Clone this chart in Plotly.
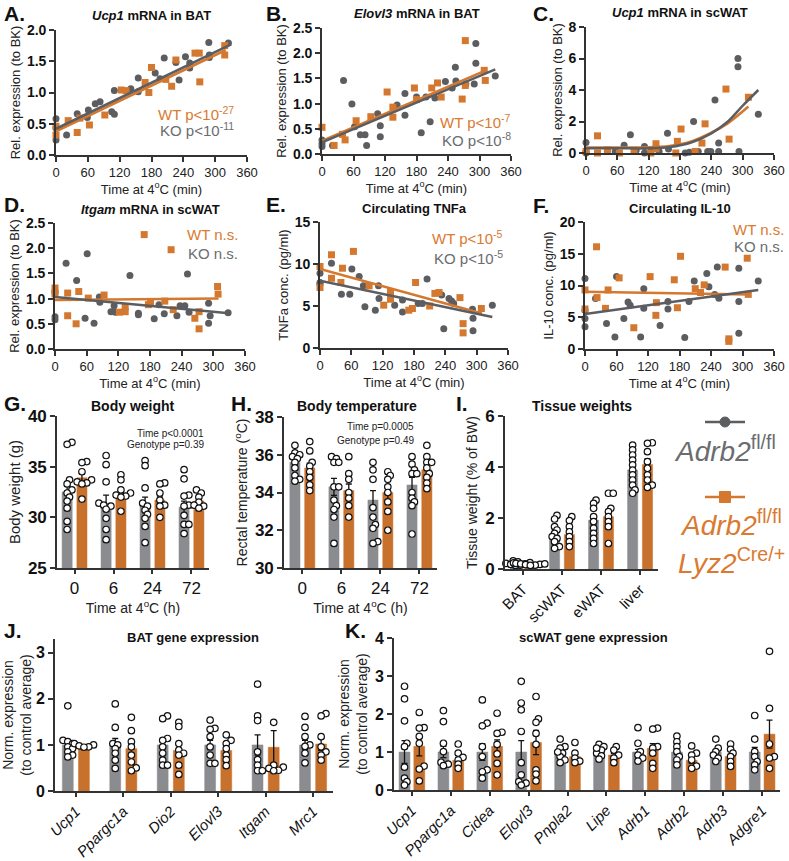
import plotly.graph_objects as go

W, H = 789, 861

# ---------------- DATA ----------------
# Panel A: Ucp1 mRNA in BAT
A_ko_t = [0,0,0,20,40,59,61,74,83,105,110,110,141,155,155,187,196,204,226,232,244,252,252,288,289,289,325]
A_ko_y = [0.58,0.43,0.24,0.32,0.66,0.60,0.72,0.82,0.85,0.69,0.65,1.03,1.06,1.23,1.01,1.31,1.22,1.55,1.48,1.20,1.57,1.39,1.47,1.80,1.60,1.56,1.79]
A_wt_t = [0,0,23,40,45,63,92,123,132,168,175,180,207,218,226,262,270,271,318,318]
A_wt_y = [0.46,0.32,0.55,0.36,0.59,0.48,0.64,1.04,1.03,1.16,1.00,1.40,1.21,1.10,1.52,1.63,1.63,1.17,1.75,1.60]
A_wt_fit_t, A_wt_fit_y = [0, 320], [0.38, 1.68]
A_ko_fit_t, A_ko_fit_y = [0, 330], [0.42, 1.77]

# Panel B: Elovl3 mRNA in BAT
B_ko_t = [0,0,0,20,41,57,62,73,82,85,106,111,111,143,158,158,180,189,198,206,215,235,248,254,255,274,293,293,290,330]
B_ko_y = [0.28,0.21,0.15,0.17,1.46,0.99,0.54,0.38,0.38,0.17,0.80,0.56,0.34,0.97,1.20,0.77,1.13,0.42,1.13,0.64,1.11,1.44,1.31,1.72,1.45,1.39,2.19,1.80,1.39,1.55]
B_wt_t = [0,23,39,44,65,93,124,135,135,176,180,209,220,227,267,273,273,309,311]
B_wt_y = [0.53,0.17,0.39,0.28,0.66,0.74,1.23,0.93,0.73,1.31,1.08,1.31,1.41,1.13,1.09,2.25,1.36,1.66,1.46]
B_wt_fit_t, B_wt_fit_y = [0, 310], [0.26, 1.65]
B_ko_fit_t, B_ko_fit_y = [0, 330], [0.23, 1.68]

# Panel C: Ucp1 mRNA in scWAT
C_ko_t = [0,0,0,41,56,73,85,96,112,112,124,140,156,158,190,198,206,215,233,239,247,254,254,291,291,293,330]
C_ko_y = [0.67,0.1,0.0,0.1,0.1,0.5,1.16,0.17,0.42,0.0,0.1,0.1,1.26,0.25,0.0,0.05,2.0,0.1,0.1,0.1,3.37,0.63,0.1,6.0,5.47,0.1,2.46]
C_wt_t = [0,22,22,41,64,92,124,134,134,172,175,182,209,222,228,268,274,311]
C_wt_y = [0.1,1.09,0.0,0.2,0.0,0.17,0.0,0.59,0.27,0.0,0.74,1.52,0.1,0.63,1.85,4.06,0.88,3.54]
C_ko_fit_t = [0,60,120,160,200,240,270,300,330]
C_ko_fit_y = [0.3,0.3,0.3,0.38,0.65,1.25,1.95,3.0,4.0]
C_wt_fit_t = [0,60,120,160,200,240,270,311]
C_wt_fit_y = [0.35,0.35,0.36,0.45,0.72,1.3,1.85,2.95]

# Panel D: Itgam mRNA in scWAT
D_ko_t = [0,0,0,0,21,41,57,61,74,84,85,106,114,112,142,158,158,188,197,207,231,237,246,251,254,291,291,294,328]
D_ko_y = [1.15,1.11,0.64,0.58,1.70,1.36,0.61,1.89,0.51,1.03,0.93,0.74,0.73,0.86,1.46,0.71,0.68,0.60,0.88,0.70,0.66,0.86,0.86,1.49,0.73,0.91,0.51,0.66,0.72]
D_wt_t = [0,0,24,24,40,45,63,93,122,133,133,169,177,181,208,220,224,265,273,273,308,309]
D_wt_y = [1.21,1.09,1.11,0.66,0.50,1.14,1.01,1.07,0.73,0.83,0.74,2.27,0.88,0.93,0.95,1.97,0.78,0.61,0.40,0.74,1.24,1.09]
D_wt_fit_t, D_wt_fit_y = [0, 310], [0.97, 1.0]
D_ko_fit_t, D_ko_fit_y = [0, 330], [1.03, 0.71]

# Panel E: Circulating TNFa
E_ko_t = [0,0,0,22,41,57,61,75,83,86,106,112,113,143,158,158,188,196,205,233,237,247,252,256,292,293,293,330]
E_ko_y = [8.9,7.8,7.6,10.1,6.4,6.4,9.4,8.5,7.4,4.9,4.5,7.4,5.9,5.1,4.3,5.7,5.3,5.3,8.2,6.3,2.3,5.9,5.6,5.3,4.6,3.55,2.05,5.1]
E_wt_t = [0,0,22,22,40,43,64,94,122,135,135,170,177,183,210,220,228,268,274,274,309]
E_wt_y = [9.7,7.2,11.1,8.3,7.8,9.5,11.5,7.4,5.1,6.7,5.8,4.5,4.7,7.8,5.0,6.5,6.6,6.0,2.9,1.8,4.7]
E_wt_fit_t, E_wt_fit_y = [0, 310], [9.4, 4.1]
E_ko_fit_t, E_ko_fit_y = [0, 330], [8.0, 3.7]

# Panel F: Circulating IL-10
F_ko_t = [0,0,0,0,20,41,57,60,74,82,86,106,112,112,143,158,158,190,198,208,232,236,247,252,255,293,293,293,330]
F_ko_y = [11.1,6.1,4.8,3.5,7.95,4.0,1.9,11.4,4.8,7.4,6.9,1.9,9.5,6.4,3.7,6.3,7.5,1.8,7.5,10.7,11.9,9.8,8.6,12.9,8.0,2.5,7.5,12.7,10.7]
F_wt_t = [0,0,22,23,39,44,65,93,124,135,136,170,176,182,210,220,227,267,274,274,309,311]
F_wt_y = [9.3,6.3,16.1,8.1,6.4,9.3,11.2,3.35,11.4,5.3,7.3,10.9,6.5,14.6,9.5,8.9,10.1,12.9,1.6,1.2,14.3,8.6]
F_wt_fit_t, F_wt_fit_y = [0, 310], [9.0, 8.6]
F_ko_fit_t, F_ko_fit_y = [0, 330], [5.5, 9.3]

# Panel G: Body weight
G_groups = ["0", "6", "24", "72"]
G_ko_mean = [32.5, 31.4, 31.4, 31.0]
G_ko_sem = [0.8, 0.8, 0.6, 0.6]
G_wt_mean = [33.9, 32.4, 31.7, 31.6]
G_wt_sem = [0.4, 0.4, 0.4, 0.3]
G_ko_pts = [[37.4,37.2,33.7,33.3,32.7,32.4,32.0,31.6,30.9,29.6,28.8],
            [36.1,35.2,33.5,31.4,31.2,31.1,30.8,29.9,28.8,27.8],
            [35.6,35.1,32.9,31.4,31.1,30.7,30.3,29.9,29.1,27.5],
            [34.7,33.8,32.2,32.1,31.2,31.1,30.2,29.3,29.3,28.4]]
G_wt_pts = [[35.5,35.4,34.5,33.7,33.5,33.4,33.3,31.8],
            [34.2,33.7,32.7,32.4,32.2,32.1,32.0,30.6],
            [33.4,33.3,32.4,31.7,31.2,31.1,30.0],
            [32.7,32.4,32.0,31.5,31.2,31.1,30.9]]

# Panel H: Body temperature
H_groups = ["0", "6", "24", "72"]
H_ko_mean = [35.6, 34.3, 33.6, 34.4]
H_ko_sem = [0.2, 0.45, 0.5, 0.4]
H_wt_mean = [35.3, 34.1, 34.0, 35.2]
H_wt_sem = [0.25, 0.35, 0.4, 0.25]
H_ko_pts = [[36.5,36.1,36.0,35.9,35.8,35.6,35.3,34.9,34.7,34.6],
            [35.9,35.8,35.6,35.6,34.3,34.3,33.6,33.3,33.1,32.7,31.3],
            [35.6,35.2,34.7,33.2,32.7,32.3,32.1,31.4,31.3],
            [35.9,35.5,35.2,35.0,35.0,34.0,33.7,33.5,33.3,31.8]]
H_wt_pts = [[36.7,36.2,35.6,35.4,35.1,34.8,34.4,34.1],
            [35.9,35.0,34.7,34.0,33.7,33.3,32.7],
            [35.1,34.9,34.7,34.3,34.0,33.5,33.0,32.0],
            [36.5,35.9,35.6,35.6,35.3,35.0,34.8,34.5,34.2]]

# Panel I: Tissue weights
I_groups = ["BAT", "scWAT", "eWAT", "liver"]
I_ko_mean = [0.22, 1.33, 1.92, 3.88]
I_ko_sem = [0.02, 0.12, 0.16, 0.18]
I_wt_mean = [0.18, 1.35, 2.05, 4.10]
I_wt_sem = [0.01, 0.14, 0.24, 0.22]
I_ko_pts = [[0.32,0.28,0.25,0.22,0.2,0.18,0.15,0.14,0.25,0.3],
            [2.1,1.96,1.66,1.53,1.4,1.27,1.2,1.07,0.88,0.81],
            [2.7,2.57,2.38,2.05,1.86,1.6,1.4,1.2,1.0],
            [4.86,4.67,4.47,4.27,4.08,3.88,3.69,3.49,3.29,3.1,2.97]]
I_wt_pts = [[0.24,0.22,0.2,0.18,0.17,0.15,0.14,0.2],
            [2.05,1.9,1.66,1.46,1.27,1.07,0.88],
            [2.97,2.97,2.38,2.25,2.05,1.86,1.66,1.0],
            [4.95,4.93,4.6,4.21,3.95,3.69,3.49,3.29,3.2]]

# Panel J: BAT gene expression
J_genes = ["Ucp1", "Ppargc1a", "Dio2", "Elovl3", "Itgam", "Mrc1"]
J_ko_mean = [1.0, 1.0, 1.0, 1.0, 1.0, 1.0]
J_ko_sem = [0.09, 0.14, 0.14, 0.1, 0.22, 0.1]
J_wt_mean = [0.97, 0.92, 0.88, 0.88, 0.95, 1.02]
J_wt_sem = [0.02, 0.1, 0.12, 0.08, 0.36, 0.14]
J_ko_pts = [[1.85,1.1,1.07,1.03,0.96,0.92,0.85,0.78,0.74],
            [1.89,1.38,1.03,1.0,0.92,0.82,0.67,0.49],
            [1.63,1.57,1.14,1.1,0.96,0.82,0.67,0.56,0.56],
            [1.54,1.36,1.34,1.18,0.96,0.78,0.6,0.6],
            [2.32,1.63,1.53,0.85,0.68,0.56,0.44,0.44],
            [1.62,1.38,1.18,1.0,0.97,0.82,0.61]]
J_wt_pts = [[1.03,1.0,0.98,0.96,0.95],
            [1.6,1.31,1.07,0.96,0.78,0.63,0.5,0.44],
            [1.49,1.4,1.03,0.89,0.82,0.78,0.56,0.36],
            [1.22,1.1,1.03,0.92,0.78,0.68,0.55],
            [3.31,1.49,0.56,0.52,0.49,0.45,0.44],
            [1.68,1.63,1.18,0.96,0.85,0.78,0.67]]

# Panel K: scWAT gene expression
K_genes = ["Ucp1", "Ppargc1a", "Cidea", "Elovl3", "Pnpla2", "Lipe", "Adrb1", "Adrb2", "Adrb3", "Adgre1"]
K_ko_mean = [1.0, 1.0, 1.0, 1.0, 1.0, 1.0, 1.0, 1.0, 1.0, 1.0]
K_ko_sem = [0.3, 0.15, 0.22, 0.3, 0.05, 0.04, 0.07, 0.07, 0.05, 0.12]
K_wt_mean = [1.15, 0.78, 1.15, 1.25, 0.88, 0.92, 1.1, 0.78, 0.88, 1.47]
K_wt_sem = [0.25, 0.07, 0.17, 0.32, 0.05, 0.04, 0.12, 0.08, 0.06, 0.37]
K_ko_pts = [[2.73,2.4,1.82,1.23,1.14,0.6,0.31,0.22,0.13],
            [2.09,1.8,1.23,1.01,0.73,0.68,0.64],
            [2.37,1.76,1.69,1.14,0.88,0.53,0.48,0.31],
            [2.86,2.29,2.11,1.54,0.72,0.4,0.22,0.18,0.13],
            [1.34,1.14,1.1,0.97,0.88,0.79,0.72,1.0],
            [1.2,1.14,1.05,0.97,0.9,0.81,1.1],
            [1.64,1.23,1.01,0.92,0.84,0.76],
            [1.42,1.27,1.14,1.01,0.88,0.79,0.66],
            [1.34,1.1,1.01,0.92,0.84,0.75],
            [1.96,1.34,1.01,0.88,0.75,0.66,0.53]]
K_wt_pts = [[2.04,1.64,1.63,1.41,1.23,0.63,0.55,0.24],
            [1.21,0.97,0.86,0.79,0.68,0.57],
            [2.02,1.52,1.49,1.2,0.95,0.7,0.4],
            [2.46,1.87,1.78,1.49,1.2,0.53,0.42,0.24],
            [1.25,0.97,0.84,0.76,0.72],
            [1.14,1.05,0.92,0.84,0.72],
            [1.63,1.6,1.14,1.1,0.97,0.7,0.57],
            [1.16,0.97,0.92,0.79,0.63,0.57],
            [1.21,1.07,0.97,0.88,0.75,0.62],
            [3.65,2.15,1.21,0.88,0.84,0.57]]

# ---------------- STYLE ----------------
FONT = "Arial, Liberation Sans, sans-serif"
GRAY_PT = "#5b5d61"
ORANGE_PT = "#d4782f"
GRAY_BAR = "#8b8c90"
ORANGE_BAR = "#c8712d"
GRAY_TXT = "#6a6c70"
ORANGE_TXT = "#d97a30"
AX = "#333333"

fig = go.Figure()
layout = {}
annotations = []
shapes = []


def px(x):
    return x / W


def py(y):
    return 1 - y / H


def ax_names(n):
    return ("xaxis" if n == 1 else f"xaxis{n}", "yaxis" if n == 1 else f"yaxis{n}",
            "x" if n == 1 else f"x{n}", "y" if n == 1 else f"y{n}")


def setup_axes(n, rect, xr, yr, xkw, ykw):
    xa, ya, xref, yref = ax_names(n)
    l, t, r, b = rect
    base = dict(showline=True, linecolor=AX, linewidth=1.6, ticks="outside", ticklen=5,
                tickwidth=1.5, tickcolor=AX, showgrid=False, zeroline=False, automargin=False)
    xd = dict(base, domain=[px(l), px(r)], anchor=yref, range=xr)
    xd.update(xkw)
    yd = dict(base, domain=[py(b), py(t)], anchor=xref, range=yr)
    yd.update(ykw)
    layout[xa] = xd
    layout[ya] = yd
    return xref, yref


def ann(text, x, y, size, color="#111", bold=False, xanchor="center", yanchor="middle"):
    annotations.append(dict(text=text, x=px(x), y=py(y), xref="paper", yref="paper",
                            showarrow=False, xanchor=xanchor, yanchor=yanchor,
                            font=dict(family=FONT, size=size, color=color,
                                      weight="bold" if bold else "normal")))


def swarm(vals, ypx, xpx, d=6.0):
    order = sorted(range(len(vals)), key=lambda i: vals[i])
    steps = [0.0]
    for k in range(1, 8):
        steps += [k * 0.4 * d, -k * 0.4 * d]
    placed = []
    out = [0.0] * len(vals)
    for i in order:
        yp = vals[i] * ypx
        chosen = steps[-1]
        for s in steps:
            if all((s - a) ** 2 + (yp - b) ** 2 >= (0.68 * d) ** 2 for a, b in placed):
                chosen = s
                break
        placed.append((chosen, yp))
        out[i] = chosen / xpx
    return out


# ---------------- SCATTER PANELS ----------------
scatter_panels = [
    (1, (56, 30, 247, 155), [0, 2], 0.5, ".1f", "<i>Ucp1</i> mRNA in BAT", "Rel. expression (to BK)",
     A_ko_t, A_ko_y, A_wt_t, A_wt_y, A_ko_fit_t, A_ko_fit_y, A_wt_fit_t, A_wt_fit_y, False,
     ("WT p<10<sup>-27</sup>", "KO p<10<sup>-11</sup>", 236, 113, 130)),
    (2, (322, 28, 511, 154), [0, 2.5], 0.5, ".1f", "<i>Elovl3</i> mRNA in BAT", "Rel. expression (to BK)",
     B_ko_t, B_ko_y, B_wt_t, B_wt_y, B_ko_fit_t, B_ko_fit_y, B_wt_fit_t, B_wt_fit_y, False,
     ("WT p<10<sup>-7</sup>", "KO p<10<sup>-8</sup>", 513, 122, 139)),
    (3, (586, 27, 774, 153), [0, 8], 2, "d", "<i>Ucp1</i> mRNA in scWAT", "Rel. expression (to BK)",
     C_ko_t, C_ko_y, C_wt_t, C_wt_y, C_ko_fit_t, C_ko_fit_y, C_wt_fit_t, C_wt_fit_y, True, None),
    (4, (55, 223, 245, 349), [0, 2.5], 0.5, ".1f", "<i>Itgam</i> mRNA in scWAT", "Rel. expression (to BK)",
     D_ko_t, D_ko_y, D_wt_t, D_wt_y, D_ko_fit_t, D_ko_fit_y, D_wt_fit_t, D_wt_fit_y, False,
     ("WT n.s.", "KO n.s.", 240, 234, 253)),
    (5, (320, 222, 508, 348), [0, 15], 5, "d", "Circulating TNFa", "TNFa conc. (pg/ml)",
     E_ko_t, E_ko_y, E_wt_t, E_wt_y, E_ko_fit_t, E_ko_fit_y, E_wt_fit_t, E_wt_fit_y, False,
     ("WT p<10<sup>-5</sup>", "KO p<10<sup>-5</sup>", 505, 238, 257)),
    (6, (585, 222, 774, 349), [0, 20], 5, "d", "Circulating IL-10", "IL-10 conc. (pg/ml)",
     F_ko_t, F_ko_y, F_wt_t, F_wt_y, F_ko_fit_t, F_ko_fit_y, F_wt_fit_t, F_wt_fit_y, False,
     ("WT n.s.", "KO n.s.", 786, 229, 247)),
]

for (n, rect, yr, ydt, yfmt, title, ytitle, kt, ky, wt, wy, kft, kfy, wft, wfy, spline, leg) in scatter_panels:
    xref, yref = setup_axes(
        n, rect, [0, 360], yr,
        dict(tickvals=[0, 60, 120, 180, 240, 300, 360], tickfont=dict(family=FONT, size=13, color="#222"),
             title=dict(text="Time at 4<sup>o</sup>C (min)", font=dict(family=FONT, size=13, color="#222"), standoff=1)),
        dict(dtick=ydt, tick0=0, tickformat=yfmt,
             tickfont=dict(family=FONT, size=14, color="#111", weight="bold"),
             title=dict(text=ytitle, font=dict(family=FONT, size=13, color="#222"), standoff=3)))
    fig.add_trace(go.Scatter(x=kt, y=ky, mode="markers", xaxis=xref, yaxis=yref, cliponaxis=False,
                             marker=dict(symbol="circle", size=7, color=GRAY_PT), showlegend=False))
    fig.add_trace(go.Scatter(x=wt, y=wy, mode="markers", xaxis=xref, yaxis=yref, cliponaxis=False,
                             marker=dict(symbol="square", size=7, color=ORANGE_PT), showlegend=False))
    shape = "spline" if spline else "linear"
    fig.add_trace(go.Scatter(x=wft, y=wfy, mode="lines", xaxis=xref, yaxis=yref,
                             line=dict(color=ORANGE_PT, width=2.5, shape=shape), showlegend=False))
    fig.add_trace(go.Scatter(x=kft, y=kfy, mode="lines", xaxis=xref, yaxis=yref,
                             line=dict(color=GRAY_PT, width=2.5, shape=shape), showlegend=False))
    l, t, r, b = rect
    ann(title, (l + r) / 2, t - 14, 13, bold=True)
    if leg:
        wtxt, ktxt, lx, ly1, ly2 = leg
        ann(wtxt, lx, ly1, 15, color=ORANGE_TXT, xanchor="right")
        ann(ktxt, lx, ly2, 15, color=GRAY_TXT, xanchor="right")

for letter, x, y in [("A.", 2, 14), ("B.", 264, 14), ("C.", 531, 14), ("D.", 2, 204),
                     ("E.", 264, 204), ("F.", 531, 205)]:
    ann(letter, x, y, 21, bold=True, xanchor="left")

# ---------------- BAR PANELS ----------------
bar_panels = [
    dict(n=7, rect=(57, 416, 209, 568), xr=[-0.45, 3.45], yr=[25, 40], dt=5, groups=G_groups,
         km=G_ko_mean, ks=G_ko_sem, wm=G_wt_mean, ws=G_wt_sem, kp=G_ko_pts, wp=G_wt_pts,
         off=0.19, bw=0.26, xpx=39, ytitle="Body weight (g)", ytsize=15, xtitle="Time at 4<sup>o</sup>C (h)",
         angle=0, xtick_size=17, ytick_size=17, italic=False),
    dict(n=8, rect=(284, 417, 437, 568), xr=[-0.47, 3.45], yr=[30, 38], dt=2, groups=H_groups,
         km=H_ko_mean, ks=H_ko_sem, wm=H_wt_mean, ws=H_wt_sem, kp=H_ko_pts, wp=H_wt_pts,
         off=0.19, bw=0.26, xpx=39, ytitle="Rectal temperature (<sup>o</sup>C)", ytsize=14,
         xtitle="Time at 4<sup>o</sup>C (h)", angle=0, xtick_size=17, ytick_size=17, italic=False),
    dict(n=9, rect=(505, 416, 658, 569), xr=[-0.46, 3.46], yr=[0, 6], dt=2, groups=I_groups,
         km=I_ko_mean, ks=I_ko_sem, wm=I_wt_mean, ws=I_wt_sem, kp=I_ko_pts, wp=I_wt_pts,
         off=0.19, bw=0.26, xpx=39, ytitle="Tissue weight (% of BW)", ytsize=14, xtitle=None,
         angle=-45, xtick_size=15, ytick_size=17, italic=False),
    dict(n=10, rect=(55, 639, 333, 791), xr=[-0.44, 5.42], yr=[0, 3.3], dt=1, groups=J_genes,
         km=J_ko_mean, ks=J_ko_sem, wm=J_wt_mean, ws=J_wt_sem, kp=J_ko_pts, wp=J_wt_pts,
         off=0.17, bw=0.23, xpx=47.5, ytitle="Norm. expression<br>(to control average)", ytsize=14, xtitle=None,
         angle=-45, xtick_size=15, ytick_size=16, italic=True),
    dict(n=11, rect=(394, 638, 780, 790), xr=[-0.46, 9.46], yr=[0, 4], dt=1, groups=K_genes,
         km=K_ko_mean, ks=K_ko_sem, wm=K_wt_mean, ws=K_wt_sem, kp=K_ko_pts, wp=K_wt_pts,
         off=0.19, bw=0.28, xpx=38.9, ytitle="Norm. expression<br>(to control average)", ytsize=14, xtitle=None,
         angle=-45, xtick_size=15, ytick_size=16, italic=True),
]

for p in bar_panels:
    n = p["n"]
    l, t, r, b = p["rect"]
    idx = list(range(len(p["groups"])))
    ticktext = [f"<i>{g}</i>" if p["italic"] else g for g in p["groups"]]
    xkw = dict(tickvals=idx, ticktext=ticktext, tickangle=p["angle"], ticklen=4,
               tickfont=dict(family=FONT, size=p["xtick_size"], color="#111"))
    if p["xtitle"]:
        xkw["title"] = dict(text=p["xtitle"], font=dict(family=FONT, size=14, color="#222"), standoff=0)
    ykw = dict(dtick=p["dt"], tick0=0, tickfont=dict(family=FONT, size=p["ytick_size"], color="#111", weight="bold"),
               title=dict(text=p["ytitle"], font=dict(family=FONT, size=p["ytsize"], color="#222"), standoff=4))
    xref, yref = setup_axes(n, p["rect"], p["xr"], p["yr"], xkw, ykw)
    ypx = (b - t) / (p["yr"][1] - p["yr"][0])
    for means, sems, pts, col, sign in [(p["km"], p["ks"], p["kp"], GRAY_BAR, -1),
                                         (p["wm"], p["ws"], p["wp"], ORANGE_BAR, 1)]:
        xs = [i + sign * p["off"] for i in idx]
        fig.add_trace(go.Bar(x=xs, y=means, width=p["bw"], xaxis=xref, yaxis=yref,
                             marker=dict(color=col, line=dict(color=col, width=0.5)),
                             error_y=dict(type="data", array=sems, color="#111", thickness=1.3, width=3),
                             showlegend=False))
        dx, dy = [], []
        for i, vals in enumerate(pts):
            offs = swarm(vals, ypx, p["xpx"])
            dx += [xs[i] + o for o in offs]
            dy += vals
        fig.add_trace(go.Scatter(x=dx, y=dy, mode="markers", xaxis=xref, yaxis=yref, cliponaxis=False,
                                 marker=dict(symbol="circle", size=6.5, color="white",
                                             line=dict(color="#111", width=1.2)),
                                 showlegend=False))

ann("Body weight", 133, 406, 14, bold=True)
ann("Body temperature", 357, 406, 14, bold=True)
ann("Tissue weights", 582, 406, 14, bold=True)
ann("Time p<0.0001", 206, 433, 10, color="#222", xanchor="right")
ann("Genotype p=0.39", 206, 444, 10, color="#222", xanchor="right")
ann("Time p=0.0005", 416, 427, 10, color="#222", xanchor="right")
ann("Genotype p=0.49", 416, 440, 10, color="#222", xanchor="right")
ann("BAT gene expression", 193, 637, 13, bold=True)
ann("scWAT gene expression", 593, 637, 13, bold=True)
for letter, x, y in [("G.", 2, 404), ("H.", 229, 404), ("I.", 454, 404), ("J.", 2, 630), ("K.", 343, 630)]:
    ann(letter, x, y, 21, bold=True, xanchor="left")

# ---------------- GENOTYPE KEY ----------------
shapes.append(dict(type="line", xref="paper", yref="paper", x0=px(705), x1=px(745), y0=py(422), y1=py(422),
                   line=dict(color=GRAY_PT, width=2.5)))
shapes.append(dict(type="circle", xref="paper", yref="paper", x0=px(720), x1=px(730), y0=py(427), y1=py(417),
                   fillcolor=GRAY_PT, line=dict(color=GRAY_PT, width=1)))
shapes.append(dict(type="line", xref="paper", yref="paper", x0=px(705), x1=px(745), y0=py(497), y1=py(497),
                   line=dict(color=ORANGE_PT, width=2.5)))
shapes.append(dict(type="rect", xref="paper", yref="paper", x0=px(719.5), x1=px(730.5), y0=py(502.5), y1=py(491.5),
                   fillcolor=ORANGE_PT, line=dict(color=ORANGE_PT, width=1)))
ann("<i>Adrb2</i><sup>fl/fl</sup>", 672, 449, 28, color=GRAY_TXT, xanchor="left")
ann("<i>Adrb2</i><sup>fl/fl</sup>", 678, 523, 28, color=ORANGE_TXT, xanchor="left")
ann("<i>Lyz2</i><sup>Cre/+</sup>", 676, 561, 28, color=ORANGE_TXT, xanchor="left")

fig.update_layout(**layout)
fig.update_layout(width=W, height=H, margin=dict(l=0, r=0, t=0, b=0),
                  plot_bgcolor="white", paper_bgcolor="white",
                  font=dict(family=FONT, color="#222"),
                  annotations=annotations, shapes=shapes, showlegend=False, barmode="overlay")
fig.write_html("out.html", config={"displayModeBar": False},
               post_script="document.body.style.margin='0';document.body.style.padding='0';"
                           "document.body.style.overflow='hidden';")
